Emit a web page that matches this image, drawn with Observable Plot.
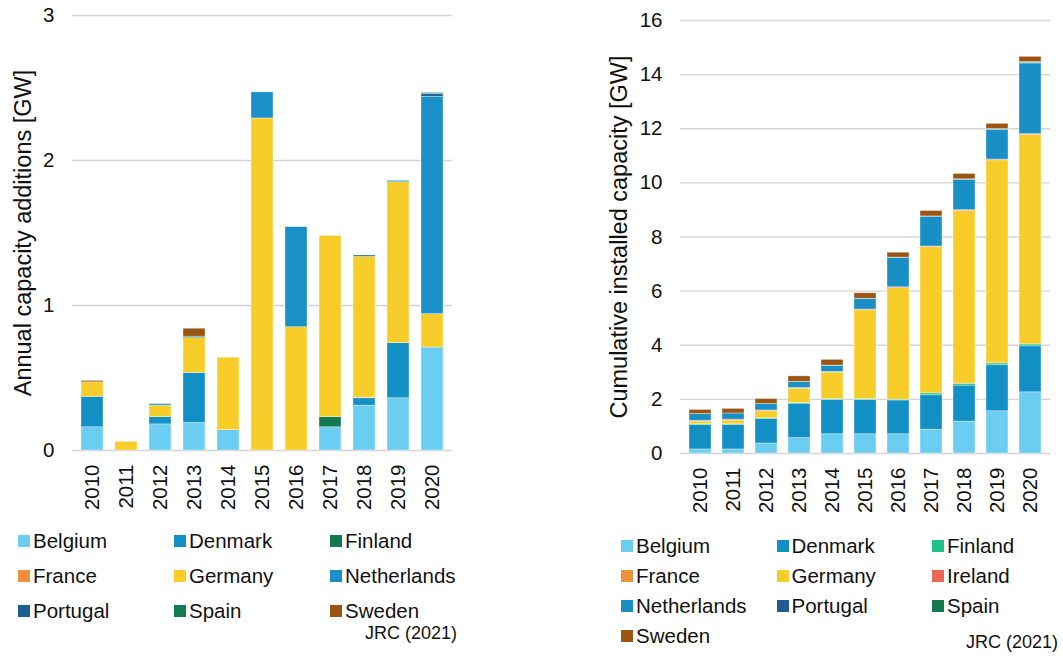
<!DOCTYPE html>
<html><head><meta charset="utf-8">
<script src="https://cdn.jsdelivr.net/npm/d3@7"></script>
<script src="https://cdn.jsdelivr.net/npm/@observablehq/plot@0.6"></script>
<style>
body{margin:0;background:#fff;font-family:"Liberation Sans",Arial,sans-serif;}
#root{position:relative;width:1063px;height:656px;overflow:hidden;background:#fff;}
.chart{position:absolute;top:0;}
.item{position:absolute;display:flex;align-items:center;white-space:nowrap;font-size:20.5px;line-height:24px;height:24px;color:#111;}
.sw{width:12px;height:12px;margin-right:3px;display:inline-block;}
.src{position:absolute;font-size:18px;color:#111;white-space:nowrap;}
</style></head>
<body><div id="root"></div>
<script>
const years = ["2010","2011","2012","2013","2014","2015","2016","2017","2018","2019","2020"];

// Annual capacity additions [GW]
const addBelgium     = [0.16, 0,    0.18, 0.19,  0.14, 0,    0,    0.16, 0.31,  0.36, 0.71];
const addDenmark     = [0.21, 0,    0.05, 0.345, 0,    0,    0,    0,    0.05,  0.38, 0];
const addFinland     = [0,    0,    0,    0,     0,    0,    0,    0.07, 0,     0,    0];
const addFrance      = [0,    0,    0,    0,     0,    0,    0,    0,    0.005, 0,    0];
const addGermany     = [0.10, 0.06, 0.08, 0.24,  0.50, 2.29, 0.85, 1.25, 0.97,  1.11, 0.23];
const addNetherlands = [0,    0,    0.01, 0,     0,    0.18, 0.69, 0,    0,     0.01, 1.50];
const addPortugal    = [0,    0,    0,    0,     0,    0,    0,    0,    0,     0,    0.02];
const addSpain       = [0,    0,    0,    0.01,  0,    0,    0,    0,    0.01,  0,    0.006];
const addSweden      = [0.01, 0,    0,    0.055, 0,    0,    0,    0,    0,     0,    0];

// Cumulative installed capacity [GW]
const cumBelgium     = [0.15, 0.15, 0.37, 0.57, 0.71, 0.71, 0.71, 0.88, 1.18, 1.56, 2.26];
const cumDenmark     = [0.90, 0.90, 0.90, 1.27, 1.27, 1.27, 1.25, 1.27, 1.33, 1.70, 1.70];
const cumFinland     = [0.03, 0.03, 0.03, 0.03, 0.03, 0.03, 0.03, 0.07, 0.07, 0.07, 0.07];
const cumFrance      = [0,    0,    0,    0,    0,    0,    0,    0,    0.002,0.002,0.002];
const cumGermany     = [0.10, 0.14, 0.26, 0.52, 0.98, 3.28, 4.12, 5.40, 6.38, 7.50, 7.74];
const cumIreland     = [0.03, 0.03, 0.03, 0.03, 0.03, 0.03, 0.03, 0.03, 0.03, 0.03, 0.03];
const cumNetherlands = [0.25, 0.23, 0.24, 0.22, 0.22, 0.39, 1.09, 1.10, 1.12, 1.10, 2.61];
const cumPortugal    = [0,    0,    0,    0,    0,    0,    0,    0,    0,    0,    0.025];
const cumSpain       = [0,    0,    0,    0.01, 0.01, 0.01, 0.01, 0.01, 0.02, 0.03, 0.03];
const cumSweden      = [0.15, 0.17, 0.18, 0.20, 0.21, 0.20, 0.18, 0.20, 0.20, 0.19, 0.19];

const leftCountries  = ["Belgium","Denmark","Finland","France","Germany","Netherlands","Portugal","Spain","Sweden"];
const leftColors     = ["#6ccdf2","#128fc4","#137a4f","#f0903a","#f8cd2a","#1a90c8","#1d5d8f","#147a50","#9c5413"];
const rightCountries = ["Belgium","Denmark","Finland","France","Germany","Ireland","Netherlands","Portugal","Spain","Sweden"];
const rightColors    = ["#6ccdf2","#128fc4","#20c08b","#f0903a","#f8cd2a","#ec6a55","#1890c6","#1d5d8f","#137a4f","#9c5413"];

const leftTicks  = [0,1,2,3];
const rightTicks = [0,2,4,6,8,10,12,14,16];
const leftTitle  = "Annual capacity additions [GW]";
const rightTitle = "Cumulative installed capacity [GW]";
const sourceText = "JRC (2021)";

const leftSeries  = [addBelgium, addDenmark, addFinland, addFrance, addGermany, addNetherlands, addPortugal, addSpain, addSweden];
const rightSeries = [cumBelgium, cumDenmark, cumFinland, cumFrance, cumGermany, cumIreland, cumNetherlands, cumPortugal, cumSpain, cumSweden];

function tidy(countries, series) {
  const rows = [];
  years.forEach((y, i) => countries.forEach((c, j) => rows.push({year: y, country: c, value: series[j][i]})));
  return rows;
}
const leftRows = tidy(leftCountries, leftSeries);
const rightRows = tidy(rightCountries, rightSeries);

const font = "'Liberation Sans', Arial, sans-serif";
function chart(o) {
  return Plot.plot({
    width: o.width, height: o.height,
    marginLeft: o.ml, marginRight: o.mr, marginTop: o.mt, marginBottom: o.mb,
    style: {fontFamily: font, color: "#111", background: "transparent", overflow: "visible"},
    x: {type: "band", domain: years, paddingInner: o.pi, paddingOuter: o.po, label: null},
    y: {domain: o.domain, label: null},
    color: {domain: o.countries, range: o.colors},
    marks: [
      Plot.gridY(o.ticks, {stroke: "#d4d4d4", strokeOpacity: 1, strokeWidth: 1.3}),
      Plot.barY(o.rows, {x: "year", y: "value", fill: "country", stroke: "#ffffff", strokeWidth: 0.6, strokeOpacity: 0.6}),
      Plot.axisY(o.ticks, {tickSize: 0, tickPadding: 18, label: null, fontSize: 20.5, tickFormat: d => String(d)}),
      Plot.axisX({tickRotate: -90, tickSize: 0, tickPadding: 14, label: null, fontSize: 20.5}),
      Plot.text([o.title], {frameAnchor: "left", dx: o.tdx, rotate: -90, textAnchor: "middle", fontSize: 23.5, text: d => d, fill: "#111"})
    ]
  });
}

const root = document.getElementById("root");
const left = chart({width: 470, height: 520, ml: 72, mr: 18, mt: 15, mb: 70, pi: 0.35, po: 0.16,
  domain: [0,3], ticks: leftTicks, countries: leftCountries, colors: leftColors, rows: leftRows, title: leftTitle, tdx: -49});
left.classList.add("chart"); left.style.left = "0px";
root.appendChild(left);

const right = chart({width: 523, height: 525, ml: 140, mr: 13, mt: 20, mb: 72, pi: 0.33, po: 0.153,
  domain: [0,16], ticks: rightTicks, countries: rightCountries, colors: rightColors, rows: rightRows, title: rightTitle, tdx: -61});
right.classList.add("chart"); right.style.left = "540px";
root.appendChild(right);

function legend(countries, colors, x0, y0, dx, dy) {
  countries.forEach((c, i) => {
    const col = i % 3, row = Math.floor(i / 3);
    const d = document.createElement("div");
    d.className = "item";
    d.style.left = (x0 + col * dx) + "px";
    d.style.top = (y0 + row * dy - 12) + "px";
    const s = document.createElement("span");
    s.className = "sw"; s.style.background = colors[i];
    d.appendChild(s);
    d.appendChild(document.createTextNode(c));
    root.appendChild(d);
  });
}
legend(leftCountries, leftColors, 18, 541, 156, 35);
legend(rightCountries, rightColors, 621, 546, 155.5, 30);

function source(x, y) {
  const d = document.createElement("div");
  d.className = "src"; d.textContent = sourceText;
  d.style.right = (1063 - x) + "px"; d.style.top = (y - 11) + "px";
  root.appendChild(d);
}
source(457, 634);
source(1058, 643);
</script></body></html>
